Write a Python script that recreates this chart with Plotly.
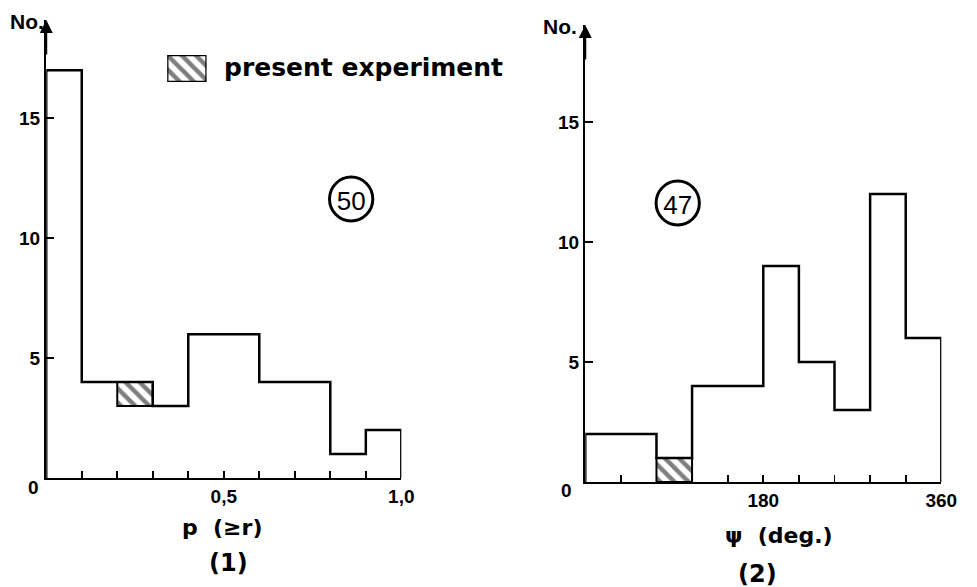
import plotly.graph_objects as go

W, H = 977, 587

# ---- data ----
p_edges = [0.0, 0.1, 0.2, 0.3, 0.4, 0.5, 0.6, 0.7, 0.8, 0.9, 1.0]
p_others = [17, 4, 3, 3, 6, 6, 4, 4, 1, 2]
p_present = [0, 0, 1, 0, 0, 0, 0, 0, 0, 0]

psi_edges = [0, 36, 72, 108, 144, 180, 216, 252, 288, 324, 360]
psi_others = [2, 2, 0, 4, 4, 9, 5, 3, 12, 6]
psi_present = [0, 0, 1, 0, 0, 0, 0, 0, 0, 0]

p_ticks = [0.1, 0.2, 0.3, 0.4, 0.5, 0.6, 0.7, 0.8, 0.9, 1.0]
p_ticktext = ["", "", "", "", "0,5", "", "", "", "", "1,0"]
psi_ticks = [36, 72, 108, 144, 180, 216, 252, 288, 324, 360]
psi_ticktext = ["", "", "", "", "180", "", "", "", "", "360"]
y_ticks = [5, 10, 15]
y_ticktext = ["5", "10", "15"]

NUM_FONT = dict(family="Liberation Sans", size=19, color="black", weight="bold")
LBL_FONT = dict(family="DejaVu Sans", size=22, color="black", weight="bold")


def step_xy(edges, totals):
    xs = [edges[0]] + edges[:-1] + [edges[-1]]
    ys = [0] + list(totals) + [0]
    return xs, ys


def px(x):
    return x / W


def py(y):
    return 1 - y / H


HATCH = dict(shape="\\", fgcolor="black", bgcolor="white", size=10, solidity=0.45)

fig = go.Figure()

panels = [
    ("x", "y", p_edges, p_others, p_present),
    ("x2", "y2", psi_edges, psi_others, psi_present),
]
for xa, ya, edges, others, present in panels:
    totals = [o + p for o, p in zip(others, present)]
    idx = [i for i in range(len(present)) if present[i] > 0]
    cx = [(edges[i] + edges[i + 1]) / 2 for i in idx]
    wd = [edges[i + 1] - edges[i] for i in idx]
    base = [others[i] for i in idx]
    hy = [present[i] for i in idx]
    fig.add_trace(go.Bar(
        x=cx, y=hy, base=base, width=wd, xaxis=xa, yaxis=ya,
        marker=dict(color="white", line=dict(color="black", width=2), pattern=HATCH),
        showlegend=False, hoverinfo="skip"))
    sx, sy = step_xy(edges, totals)
    fig.add_trace(go.Scatter(
        x=sx, y=sy, xaxis=xa, yaxis=ya, mode="lines",
        line=dict(color="black", width=2.5, shape="hv"),
        showlegend=False, hoverinfo="skip"))

# legend key box (hatched)
fig.add_trace(go.Bar(
    x=[0.5], y=[1], width=[1], xaxis="x3", yaxis="y3",
    marker=dict(color="white", line=dict(color="black", width=2.5), pattern=HATCH),
    showlegend=False, hoverinfo="skip"))

axis_common = dict(showline=True, linecolor="black", linewidth=2.3, ticks="inside",
                   tickcolor="black", tickwidth=1.8, showgrid=False, zeroline=False,
                   tickfont=NUM_FONT)

fig.update_layout(
    width=W, height=H, autosize=False, margin=dict(l=0, r=0, t=0, b=0),
    paper_bgcolor="white", plot_bgcolor="white", bargap=0, hovermode=False,
    xaxis=dict(domain=[px(47), px(408)], range=[0, 1], anchor="y",
               tickvals=p_ticks, ticktext=p_ticktext, ticklen=7, **axis_common),
    yaxis=dict(domain=[py(478), py(20)], range=[0, 19.1], anchor="x",
               tickvals=y_ticks, ticktext=y_ticktext, ticklen=8, **axis_common),
    xaxis2=dict(domain=[px(595), px(957)], range=[0, 360], anchor="y2",
                tickvals=psi_ticks, ticktext=psi_ticktext, ticklen=7, **axis_common),
    yaxis2=dict(domain=[py(482), py(25)], range=[0, 19.04], anchor="x2",
                tickvals=y_ticks, ticktext=y_ticktext, ticklen=8, **axis_common),
    xaxis3=dict(domain=[px(170), px(210)], range=[0, 1], anchor="y3", visible=False),
    yaxis3=dict(domain=[py(82), py(55)], range=[0, 1], anchor="x3", visible=False),
)

ann = []
# y-axis arrows
for xa, ya, top in [("x", "y", 19.1), ("x2", "y2", 19.04)]:
    ann.append(dict(x=0, y=top, xref=xa, yref=ya, ax=0, ay=top - 1.5, axref=xa, ayref=ya,
                    showarrow=True, arrowhead=2, arrowsize=1.3, arrowwidth=2,
                    arrowcolor="black", text=""))


def label(x, y, text, font, xanchor="center"):
    ann.append(dict(x=px(x), y=py(y), xref="paper", yref="paper", text=text,
                    xanchor=xanchor, yanchor="middle", showarrow=False, font=font))


NO_FONT = dict(family="Liberation Sans", size=21, weight="bold", color="black")
label(27, 21, "No.", NO_FONT)
label(569, 26, "No.", NO_FONT)
label(34, 487, "0", NUM_FONT)
label(576, 490, "0", NUM_FONT)
label(226, 527, "p  (≥r)", LBL_FONT)
label(232, 563, "(1)", dict(family="DejaVu Sans", size=24, weight="bold", color="black"))
label(792, 535, "ψ  (deg.)", LBL_FONT)
label(770, 574, "(2)", dict(family="DejaVu Sans", size=24, weight="bold", color="black"))
label(226, 68, "present experiment",
      dict(family="DejaVu Sans", size=25, weight="bold", color="black"), xanchor="left")
fig.update_layout(annotations=ann)

shapes = []
for cxp, cyp, t in [(357, 199, "50"), (689, 203, "47")]:
    r = 22
    shapes.append(dict(type="circle", xref="paper", yref="paper",
                       x0=px(cxp - r), x1=px(cxp + r), y0=py(cyp + r), y1=py(cyp - r),
                       line=dict(color="black", width=3),
                       label=dict(text=t, textposition="middle center",
                                  font=dict(family="Liberation Sans", size=26, color="black"))))
fig.update_layout(shapes=shapes)

POST = ("document.documentElement.style.overflow='hidden';"
        "document.body.style.margin='0';document.body.style.overflow='hidden';")

fig.write_html(
    "out.html",
    config={"displayModeBar": False, "responsive": False, "staticPlot": True},
    post_script=POST,
)
